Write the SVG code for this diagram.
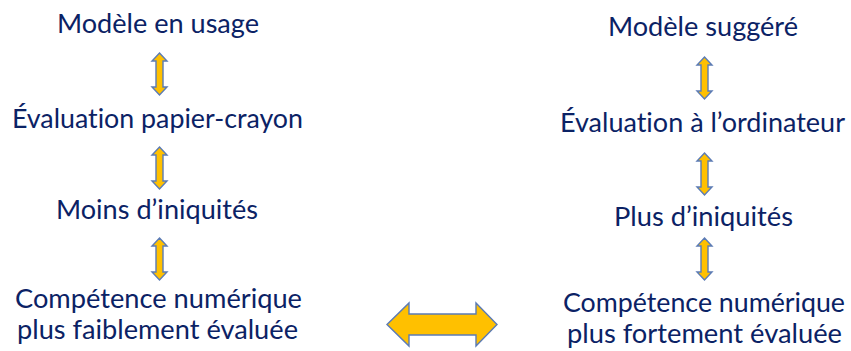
<svg xmlns="http://www.w3.org/2000/svg" xmlns:xlink="http://www.w3.org/1999/xlink" width="851" height="351" viewBox="0 0 851 351">
<style>
  .t { font-family: Lato, "Open Sans", "Liberation Sans", sans-serif; font-size: 26.5px; fill: #0B2265; text-anchor: middle; font-variant-ligatures: none; font-feature-settings: "liga" 0; }
  .arr { fill: #FFC000; stroke: #5B7BB5; stroke-width: 1.4; stroke-linejoin: miter; }
</style>
<defs>
  <path id="va" d="M0,0 L7.5,8 L3.5,8 L3.5,34 L7.5,34 L0,42 L-7.5,34 L-3.5,34 L-3.5,8 L-7.5,8 Z"/>
</defs>
<rect width="851" height="351" fill="#ffffff"/>

<g id="left-modele">
  <text class="t" x="158" y="33" textLength="202" lengthAdjust="spacingAndGlyphs">Modèle en usage</text>
</g>
<g id="left-evaluation">
  <text class="t" x="157.5" y="128" textLength="291" lengthAdjust="spacingAndGlyphs">Évaluation papier-crayon</text>
</g>
<g id="left-iniquites">
  <text class="t" x="157" y="219" textLength="202" lengthAdjust="spacingAndGlyphs">Moins d’iniquités</text>
</g>
<g id="left-competence">
  <text class="t" x="158.5" y="308" textLength="287" lengthAdjust="spacingAndGlyphs">Compétence numérique</text>
  <text class="t" x="157.5" y="339" textLength="281" lengthAdjust="spacingAndGlyphs">plus faiblement évaluée</text>
</g>

<g id="right-modele">
  <text class="t" x="703" y="36" textLength="190" lengthAdjust="spacingAndGlyphs">Modèle suggéré</text>
</g>
<g id="right-evaluation">
  <text class="t" x="702.5" y="132" textLength="285" lengthAdjust="spacingAndGlyphs">Évaluation à l’ordinateur</text>
</g>
<g id="right-iniquites">
  <text class="t" x="703.5" y="226" textLength="179" lengthAdjust="spacingAndGlyphs">Plus d’iniquités</text>
</g>
<g id="right-competence">
  <text class="t" x="704" y="312" textLength="282" lengthAdjust="spacingAndGlyphs">Compétence numérique</text>
  <text class="t" x="704.5" y="343" textLength="275" lengthAdjust="spacingAndGlyphs">plus fortement évaluée</text>
</g>

<g id="connectors">
  <use xlink:href="#va" class="arr" x="159.5" y="53"/>
  <use xlink:href="#va" class="arr" x="159.5" y="147"/>
  <use xlink:href="#va" class="arr" x="159.5" y="238"/>
  <use xlink:href="#va" class="arr" x="704.5" y="57"/>
  <use xlink:href="#va" class="arr" x="704.5" y="153"/>
  <use xlink:href="#va" class="arr" x="704.5" y="238"/>
  <path class="arr" d="M387,324.5 L409,303 L409,314 L476,314 L476,303 L497,324.5 L476,346 L476,335 L409,335 L409,346 Z"/>
</g>
</svg>
